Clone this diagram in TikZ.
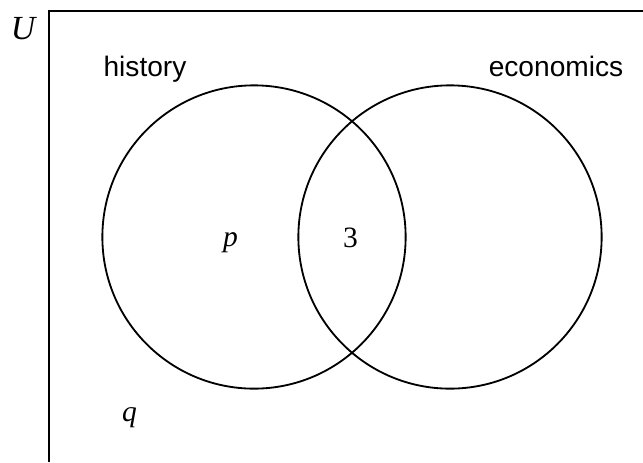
\documentclass[tikz,border=0pt]{standalone}
\usepackage{fontspec}
\setmainfont{Liberation Serif}
\setsansfont{Liberation Sans}
\usetikzlibrary{positioning}

\begin{document}
\begin{tikzpicture}[
    x=0.025cm, y=-0.025cm,
    set/.style={circle, draw=black, line width=1.3pt, minimum size=7.58cm, inner sep=0pt},
    setname/.style={anchor=base, font=\sffamily\fontsize{20}{24}\selectfont},
    value/.style={anchor=base, font=\rmfamily\fontsize{21}{25}\selectfont},
    frame/.style={line width=1.3pt, black}
]
\useasboundingbox (0, 0) rectangle (643, 462);

% Universal set
\coordinate (fbot) at (49, 462);
\coordinate (fcorner) at (49, 11);
\coordinate (fright) at (643, 11);
\draw[frame] (fbot) -- (fcorner) -- (fright);
\node[value, font=\rmfamily\fontsize{24}{28}\selectfont] (uset) at (24, 39) {\textit{U}};

% Sets
\node[set] (hist) at (254, 237) {};
\node[set] (econ) at (450, 237) {};
\node[setname] (histlbl) at (145, 76) {history};
\node[setname] (econlbl) at (556, 76) {economics};

% Regions
\node[value] (ponly) at (230.5, 246) {\textit{p}};
\node[value] (both) at (350.5, 247) {3};
\node[value] (none) at (129.5, 421) {\textit{q}};

\end{tikzpicture}
\end{document}
